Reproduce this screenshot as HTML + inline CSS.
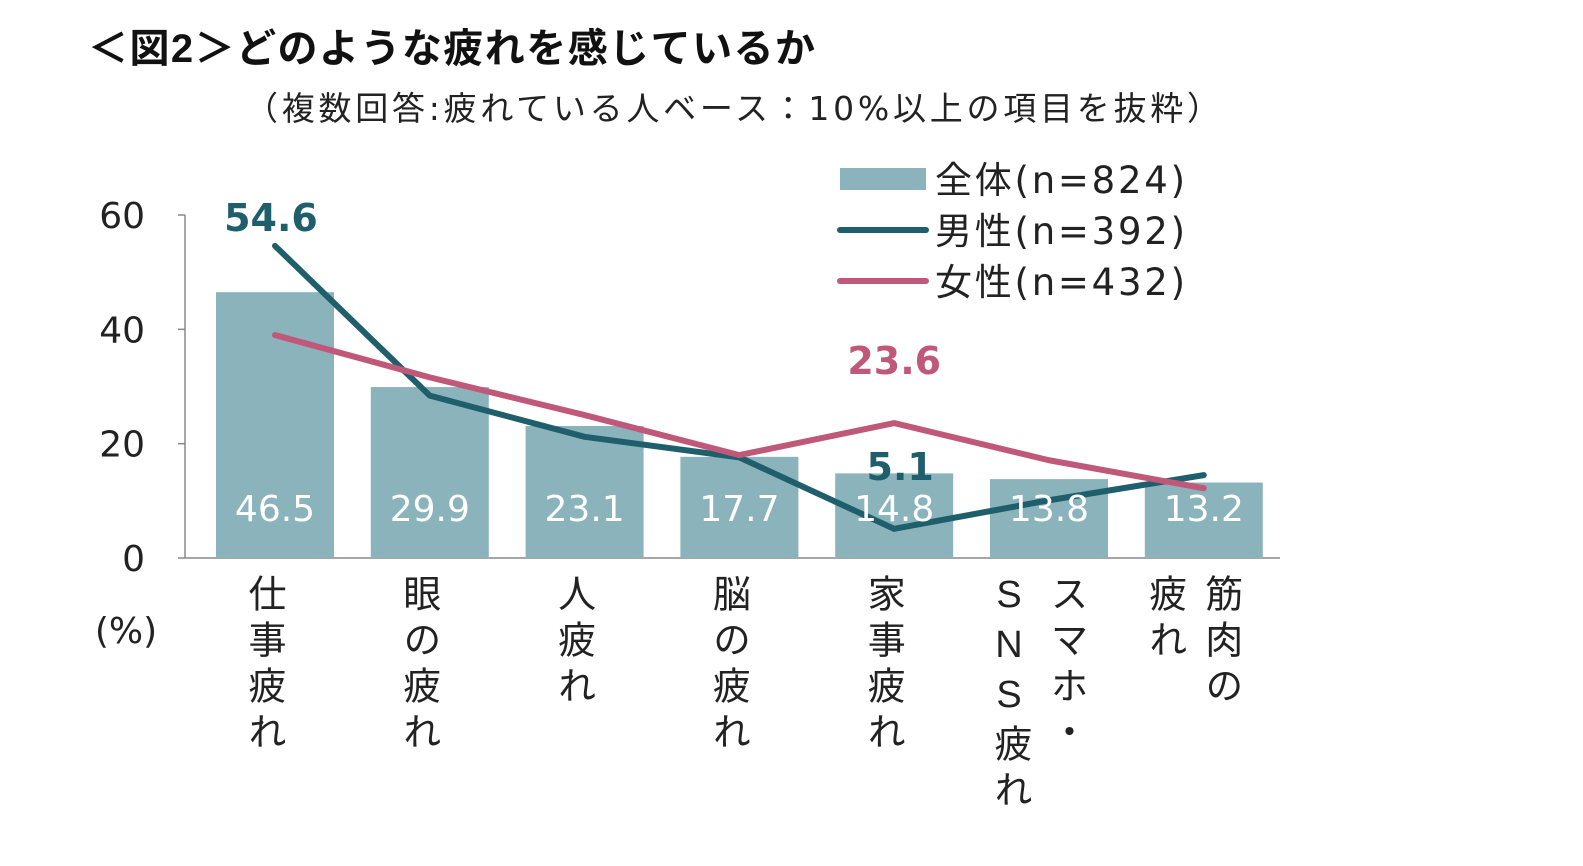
<!DOCTYPE html>
<html><head><meta charset="utf-8">
<style>
body{margin:0;width:1583px;height:866px;background:#fff;overflow:hidden;font-family:"DejaVu Sans","Noto Sans CJK JP",sans-serif;}
svg{position:absolute;left:0;top:0}
.col{position:absolute;writing-mode:vertical-rl;text-orientation:upright;font-size:38px;letter-spacing:8px;color:#222;line-height:1;font-family:"Liberation Sans","Noto Sans CJK JP",sans-serif;}
</style></head><body>
<svg width="1583" height="866">
<text x="88" y="62" font-size="40" font-weight="bold" fill="#111" font-family="Liberation Sans, Noto Sans CJK JP, sans-serif" textLength="727">＜図2＞どのような疲れを感じているか</text>
<text x="245" y="120" font-size="33" fill="#222" textLength="975">（複数回答:疲れている人ベース：10%以上の項目を抜粋）</text>
<g id="g"></g>
</svg>
<div id="cats"></div>
<script>
const categories=["仕事疲れ","眼の疲れ","人疲れ","脳の疲れ","家事疲れ","スマホ・SNS疲れ","筋肉の疲れ"];
const catColumns=[["仕事疲れ"],["眼の疲れ"],["人疲れ"],["脳の疲れ"],["家事疲れ"],["スマホ・","SNS疲れ"],["筋肉の","疲れ"]];
const totalValues=[46.5,29.9,23.1,17.7,14.8,13.8,13.2];
const maleValues=[54.6,28.4,21.2,17.6,5.1,10.1,14.5];
const femaleValues=[39.0,31.6,25.0,18.0,23.6,17.1,12.2];
const yTicks=[0,20,40,60];
const NS="http://www.w3.org/2000/svg";
const g=document.getElementById('g');
const y=v=>558-v*(343/60);
const x=i=>275+i*154.8;
function mk(t,a,p){const e=document.createElementNS(NS,t);for(const k in a)e.setAttribute(k,a[k]);(p||g).appendChild(e);return e;}
let ax=mk('line',{x1:185,y1:y(60),x2:185,y2:558,stroke:'#888','stroke-width':1.5});


let bx=mk('line',{x1:185,y1:558,x2:1280,y2:558,stroke:'#888','stroke-width':1.5});


yTicks.forEach(t=>{
 mk('line',{x1:178,y1:y(t),x2:185,y2:y(t),stroke:'#888','stroke-width':1.5});
 let tx=mk('text',{x:145,y:y(t)+13,'font-size':36,'text-anchor':'end',fill:'#222'});tx.textContent=t;
 
 
});
let pc=mk('text',{x:126,y:643,'font-size':36,'text-anchor':'middle',fill:'#222'});pc.textContent='(%)';


totalValues.forEach((v,i)=>{
 let r=mk('rect',{x:x(i)-59,y:y(v),width:118,height:558-y(v),fill:'#8ab3bc'});
 
 
});
function line(vals,col,name){
 let p=mk('polyline',{points:vals.map((v,i)=>x(i)+','+y(v)).join(' '),fill:'none',stroke:col,'stroke-width':6,'stroke-linejoin':'round','stroke-linecap':'round'});
 
 
}
line(maleValues,'#1e5f6b','male-line');
line(femaleValues,'#c0587a','female-line');
totalValues.forEach((v,i)=>{
 let t=mk('text',{x:x(i),y:521,'font-size':36,'text-anchor':'middle',fill:'#fff'});t.textContent=v.toFixed(1);
 
 
});
let l1=mk('text',{x:x(0)-4,y:231,'font-size':38,'font-weight':'bold','text-anchor':'middle',fill:'#1e5f6b'});l1.textContent=maleValues[0].toFixed(1);


let l2=mk('text',{x:x(4)+6,y:480,'font-size':38,'font-weight':'bold','text-anchor':'middle',fill:'#1e5f6b'});l2.textContent=maleValues[4].toFixed(1);


let l3=mk('text',{x:x(4),y:374,'font-size':38,'font-weight':'bold','text-anchor':'middle',fill:'#c0587a'});l3.textContent=femaleValues[4].toFixed(1);


const legendLabels=["全体(n=824)","男性(n=392)","女性(n=432)"];
let s1=mk('rect',{x:840,y:168,width:86,height:22,fill:'#8ab3bc'});


let s2=mk('line',{x1:840,y1:230,x2:926,y2:230,stroke:'#1e5f6b','stroke-width':6,'stroke-linecap':'round'});


let s3=mk('line',{x1:840,y1:281,x2:926,y2:281,stroke:'#c0587a','stroke-width':6,'stroke-linecap':'round'});


legendLabels.forEach((s,i)=>{
 let t=mk('text',{x:935,y:193+i*51,'font-size':37,fill:'#222',textLength:250});t.textContent=s;
 
 
});
const cats=document.getElementById('cats');
catColumns.forEach((cols,i)=>{
 cols.forEach((c,j)=>{
  const d=document.createElement('div');
  d.className='col';
  d.textContent=c;
  const n=cols.length;
  const cx=x(i)+ (n===1?-12:(j===0?16:-40));
  d.style.left=(cx-19)+'px';
  d.style.top='574px';
  
  
  cats.appendChild(d);
 });
});
</script>
</body></html>
